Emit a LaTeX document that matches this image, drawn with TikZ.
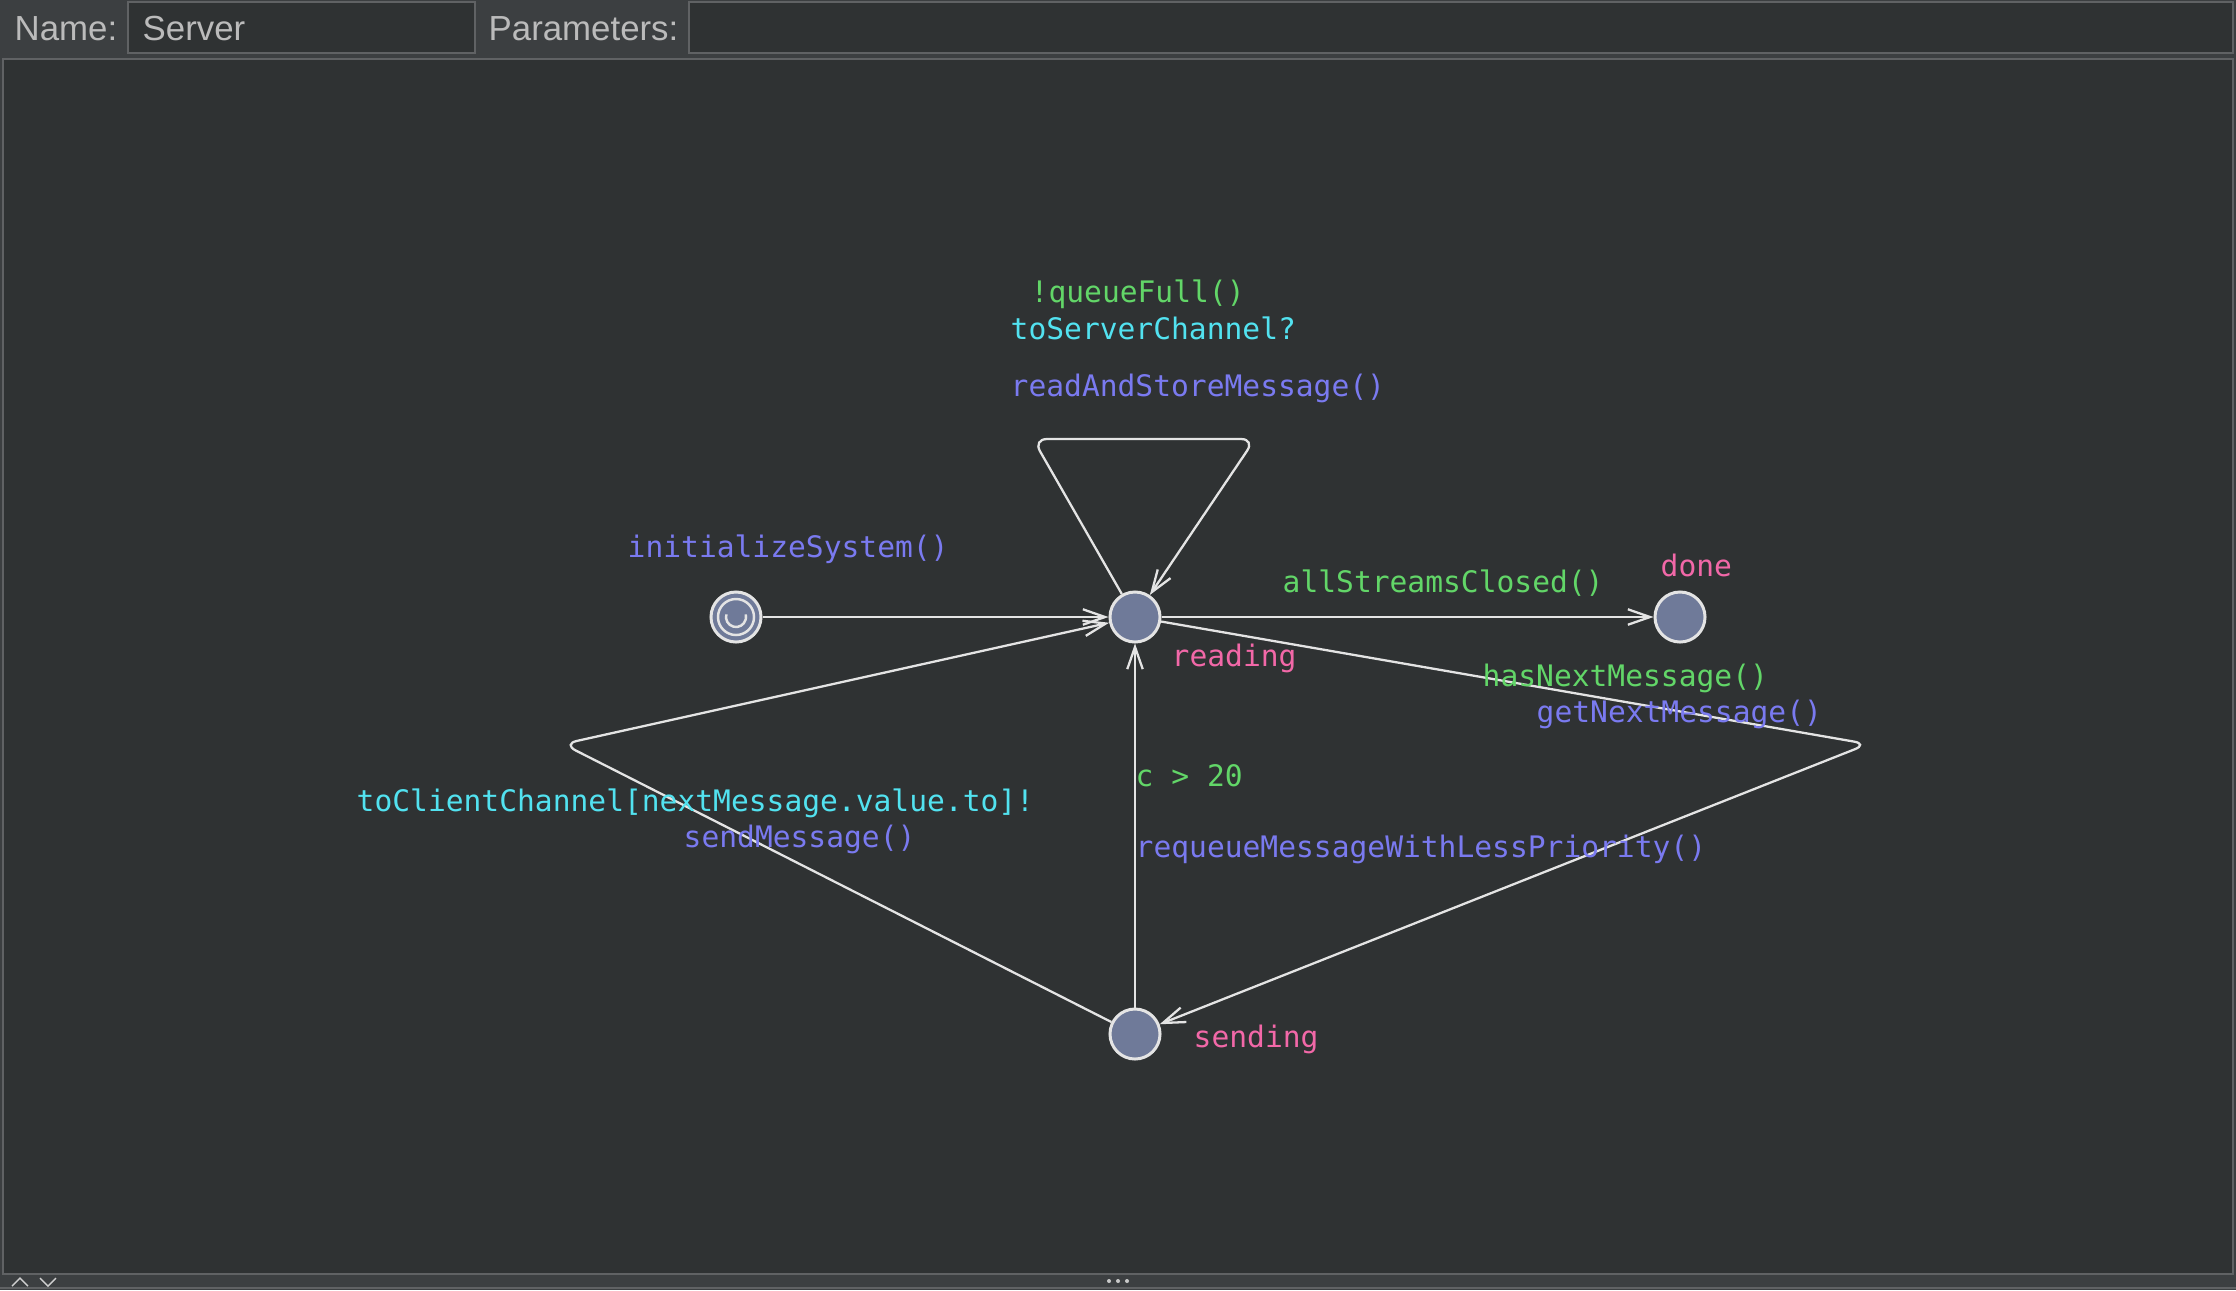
\documentclass[tikz,border=0pt]{standalone}
\usepackage{fontspec}
\setmainfont{Liberation Sans}
\newfontfamily\codefont{DejaVu Sans Mono}
\usetikzlibrary{arrows.meta}
\definecolor{canvascolor}{RGB}{47,50,51}
\definecolor{barcolor}{RGB}{60,63,65}
\definecolor{framecolor}{RGB}{96,98,100}
\definecolor{uitext}{RGB}{187,187,187}
\definecolor{locfill}{RGB}{111,122,153}
\definecolor{linecolor}{RGB}{228,228,228}
\definecolor{guardcolor}{RGB}{98,214,104}
\definecolor{synccolor}{RGB}{82,226,240}
\definecolor{updatecolor}{RGB}{122,122,240}
\definecolor{namecolor}{RGB}{242,104,168}

\begin{document}
\begin{tikzpicture}[
    x=0.01cm, y=-0.01cm,
    location/.style={circle, draw=linecolor, line width=0.85pt, fill=locfill, minimum size=0.5cm, inner sep=0pt},
    transition/.style={draw=linecolor, line width=0.65pt, -{Straight Barb[length=6.3pt,width=4.4pt]}},
    codelabel/.style={anchor=base west, inner sep=0pt, font=\codefont\fontsize{8.42}{10}\selectfont},
    guardlabel/.style={codelabel, text=guardcolor},
    synclabel/.style={codelabel, text=synccolor},
    updatelabel/.style={codelabel, text=updatecolor},
    namelabel/.style={codelabel, text=namecolor},
    uilabel/.style={anchor=base west, inner sep=0pt, text=uitext, font=\fontsize{9.9}{12}\selectfont},
    uibox/.style={draw=framecolor, line width=0.5pt, fill=canvascolor}
]
    \useasboundingbox (0,0) rectangle (2236,1290);

    % Editor frame
    \fill[barcolor] (0,0) rectangle (2236,1290);
    \draw[uibox] (128,2) rectangle (475,53);
    \draw[uibox] (689,2) rectangle (2233,53);
    \draw[uibox, line width=0.8pt] (3,59) rectangle (2233,1274);
    \draw[framecolor, line width=0.8pt] (0,1288) -- (2236,1288);
    \draw[uitext!70, line width=0.4pt] (12,1286) -- (20,1278) -- (28,1286);
    \draw[uitext!70, line width=0.4pt] (40,1278) -- (48,1286) -- (56,1278);
    \foreach \dx in {-9,0,9}
        \fill[uitext!80] (1118+\dx,1281) circle[radius=2];

    \node[uilabel] (namelbl) at (14,40) {Name:};
    \node[uilabel] (nameval) at (142,40) {Server};
    \node[uilabel] (paramlbl) at (488,40) {Parameters:};

    % Locations
    \node[location] (init) at (736,617) {};
    \draw[linecolor, line width=0.7pt] (init.center) circle[radius=0.18cm];
    \draw[linecolor, line width=0.7pt] (init.center) ++(165:0.1cm) arc[start angle=165, end angle=375, radius=0.1cm];
    \node[location] (reading) at (1135,617) {};
    \node[location] (done) at (1680,617) {};
    \node[location] (sending) at (1135,1034) {};

    % Bend points
    \coordinate (loopleft) at (1033,439);
    \coordinate (loopright) at (1255,439);
    \coordinate (rightbend) at (1868,744);
    \coordinate (leftbend) at (563,744);

    % Transitions
    \draw[transition] (init) -- (reading);
    \draw[transition] (reading) -- (done);
    \draw[transition, rounded corners=4pt] (reading) -- (loopleft) -- (loopright) -- (reading);
    \draw[transition, rounded corners=4pt] (reading) -- (rightbend) -- (sending);
    \draw[transition, rounded corners=4pt] (sending) -- (leftbend) -- (reading);
    \draw[transition] (sending) -- (reading);

    % Labels
    \node[guardlabel] (g1) at (1030,302) {!queueFull()};
    \node[synclabel] (s1) at (1010,339) {toServerChannel?};
    \node[updatelabel] (u1) at (1010,396) {readAndStoreMessage()};
    \node[updatelabel] (u0) at (627,557) {initializeSystem()};
    \node[guardlabel] (g2) at (1282,592) {allStreamsClosed()};
    \node[guardlabel] (g3) at (1482,686) {hasNextMessage()};
    \node[updatelabel] (u3) at (1536,722) {getNextMessage()};
    \node[guardlabel] (g4) at (1135,786) {c > 20};
    \node[updatelabel] (u4) at (1135,857) {requeueMessageWithLessPriority()};
    \node[synclabel] (s5) at (356,811) {toClientChannel[nextMessage.value.to]!};
    \node[updatelabel] (u5) at (683,847) {sendMessage()};

    \node[namelabel] (nreading) at (1171,666) {reading};
    \node[namelabel] (ndone) at (1660,576) {done};
    \node[namelabel] (nsending) at (1193,1047) {sending};
\end{tikzpicture}
\end{document}
